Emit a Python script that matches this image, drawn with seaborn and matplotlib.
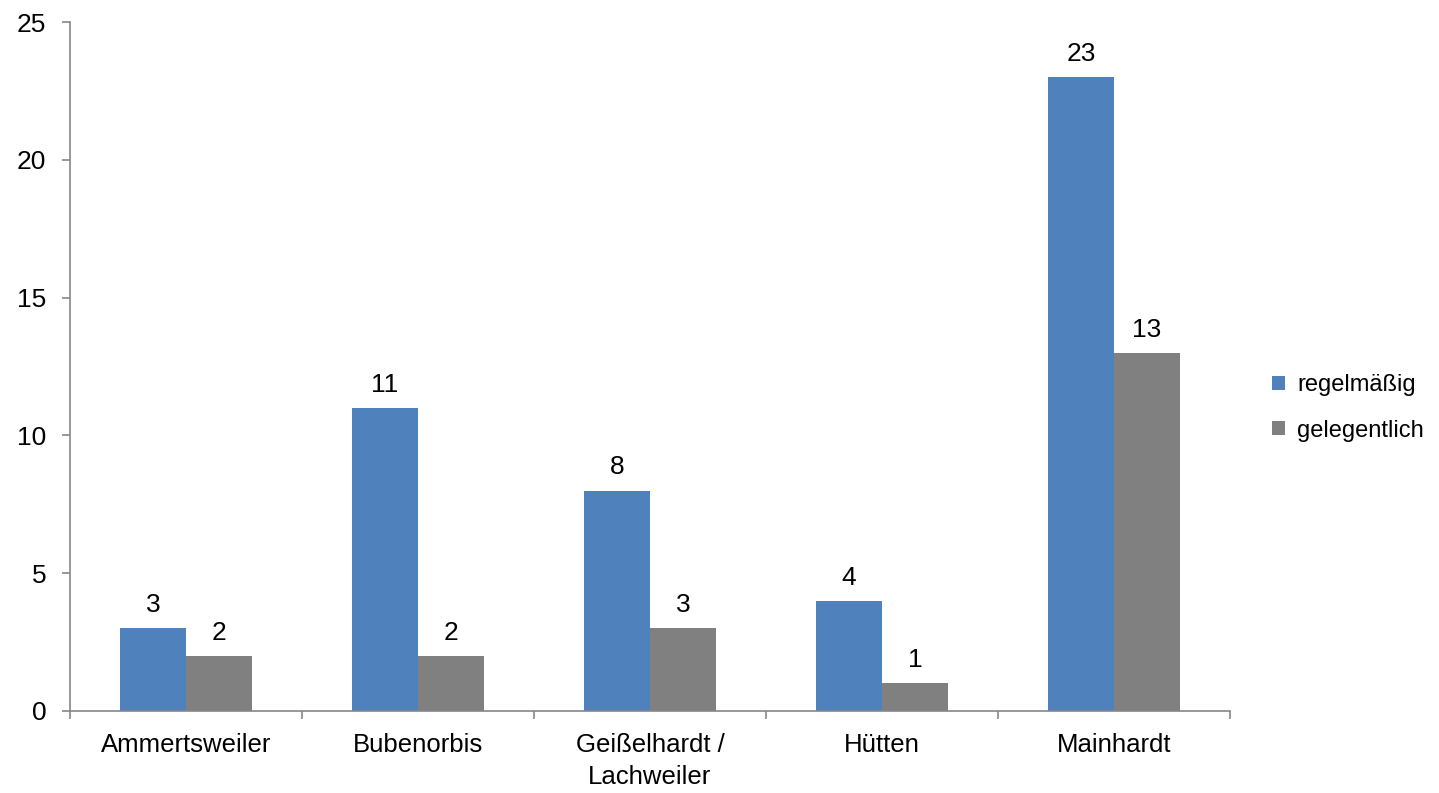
import matplotlib
matplotlib.use("Agg")
import matplotlib.pyplot as plt
import seaborn as sns
import pandas as pd
import numpy as np

orte = ["Ammertsweiler", "Bubenorbis", "Geißelhardt /\nLachweiler", "Hütten", "Mainhardt"]
regelmaessig = [3, 11, 8, 4, 23]
gelegentlich = [2, 2, 3, 1, 13]
serien = ["regelmäßig", "gelegentlich"]
farben = ["#4F81BD", "#808080"]

df = pd.DataFrame({
    "Ort": orte * 2,
    "Wert": regelmaessig + gelegentlich,
    "Serie": [serien[0]] * len(orte) + [serien[1]] * len(orte),
})

sns.set_style("white")
plt.rcParams['font.family'] = ['Liberation Sans', 'DejaVu Sans']
plt.rcParams['text.color'] = 'black'
plt.rcParams['xtick.color'] = 'black'
plt.rcParams['ytick.color'] = 'black'

fig = plt.figure(figsize=(14.39, 7.93), dpi=100)
ax = fig.add_axes([70 / 1439, 1 - 711 / 793, 1160 / 1439, 689 / 793])

sns.barplot(data=df, x="Ort", y="Wert", hue="Serie", palette=farben,
            width=0.57, dodge=True, gap=0, edgecolor="none", saturation=1, ax=ax)

for cont in ax.containers:
    ax.bar_label(cont, padding=8, fontsize=19, color="black")

ax.set_xlim(-0.5, 4.5)
ax.set_ylim(0, 25)
ax.set_yticks(range(0, 26, 5))
ax.set_xlabel("")
ax.set_ylabel("")

ax.set_xticks(np.arange(-0.5, 5, 1), minor=True)
ax.tick_params(axis="x", which="major", bottom=True, length=0, labelsize=18.5, pad=16,
               labelcolor="black")
ax.tick_params(axis="x", which="minor", bottom=True, length=6, width=1.2,
               color="#868686", direction="out")
ax.tick_params(axis="y", left=True, length=6, width=1.2, color="#868686",
               direction="out", labelsize=19, pad=11, labelcolor="black")
for lab in ax.get_xticklabels():
    lab.set_linespacing(1.4)

for s in ["top", "right"]:
    ax.spines[s].set_visible(False)
for s in ["left", "bottom"]:
    ax.spines[s].set_color("#868686")
    ax.spines[s].set_linewidth(1.2)

ax.legend(loc="center left", bbox_to_anchor=(1.018, 0.44), frameon=False,
          fontsize=17, handlelength=0.55, handleheight=0.55, labelspacing=1.0,
          handletextpad=0.5, labelcolor="black")

fig.savefig("out.png", dpi=100)
